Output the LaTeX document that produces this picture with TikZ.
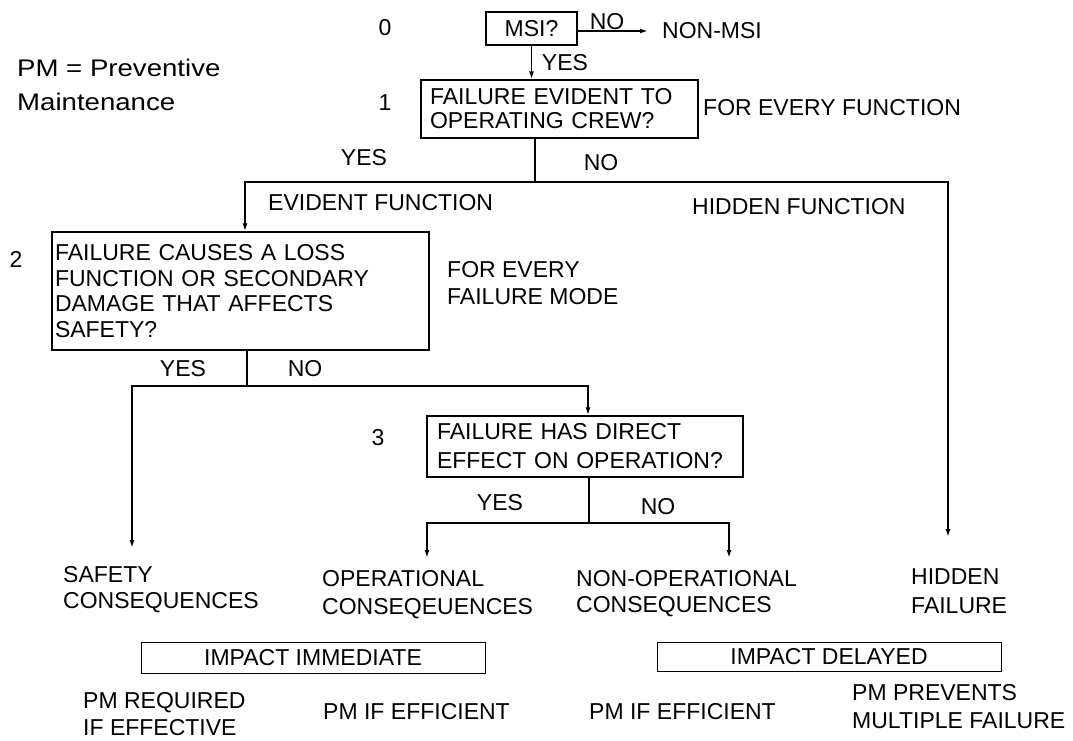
\documentclass[tikz,border=0pt]{standalone}
\usepackage{fontspec}
\setmainfont{Liberation Sans}
\usetikzlibrary{arrows.meta,calc}
\begin{document}
\begin{tikzpicture}[x=1pt,y=-1pt,
  txt/.style={inner sep=0pt, font=\fontsize{23}{26}\selectfont, align=left, anchor=west},
  lbl/.style={txt, anchor=center},
  qbox/.style={draw, line width=1.1pt, font=\fontsize{23}{26}\selectfont, align=left, inner ysep=0pt},
  ibox/.style={draw, line width=1pt, font=\fontsize{23}{26}\selectfont, align=center, inner sep=0pt, minimum width=344pt},
  conn/.style={line width=1.6pt},
  arr/.style={conn, -{Latex[length=8pt,width=5pt]}},
]
\useasboundingbox (0,0) rectangle (1073,740);

% legend
\node[txt, font=\fontsize{24}{34}\selectfont] (pm) at (17,85) {\scalebox{1.15}[1]{PM = Preventive}\\\scalebox{1.15}[1]{Maintenance}};

% level numbers
\node[lbl] (l0) at (385,28) {0};
\node[lbl] (l1) at (385,103) {1};
\node[lbl] (l2) at (16,259) {2};
\node[lbl] (l3) at (378,438) {3};

% boxes
\node[qbox, align=center, minimum width=91pt, minimum height=33pt] (msi) at (531.5,28.5) {MSI?};
\node[qbox, minimum width=277pt, minimum height=58pt, text width=259pt, inner xsep=9pt, font=\fontsize{23}{24}\selectfont] (b1) at (559.5,109) {FAILURE EVIDENT TO\\OPERATING CREW?};
\node[qbox, minimum width=377pt, minimum height=118pt, text width=371pt, inner xsep=3pt, font=\fontsize{23}{25.5}\selectfont] (b2) at (240.5,291) {FAILURE CAUSES A LOSS\\FUNCTION OR SECONDARY\\DAMAGE THAT AFFECTS\\SAFETY?};
\node[qbox, minimum width=316pt, minimum height=61pt, text width=296pt, inner xsep=10pt, font=\fontsize{23}{29}\selectfont] (b3) at (585,446.5) {FAILURE HAS DIRECT\\EFFECT ON OPERATION?};
\node[ibox, minimum height=31pt] (imm) at (313,657.5) {IMPACT IMMEDIATE};
\node[ibox, minimum height=29pt] (del) at (829,656.5) {IMPACT DELAYED};

% labels
\node[txt] (nonmsi) at (662,31) {NON-MSI};
\node[lbl] (msino) at (607,22) {NO};
\node[lbl] (msiyes) at (565,63) {YES};
\node[txt] (fef) at (703,108) {FOR EVERY FUNCTION};
\node[lbl] (y1) at (364,158) {YES};
\node[lbl] (n1) at (601,163) {NO};
\node[txt] (evf) at (268,203) {EVIDENT FUNCTION};
\node[txt] (hidf) at (692,207) {HIDDEN FUNCTION};
\node[txt, font=\fontsize{23}{27}\selectfont] (fefm) at (447,283.5) {FOR EVERY\\FAILURE MODE};
\node[lbl] (y2) at (183,369) {YES};
\node[lbl] (n2) at (305,369) {NO};
\node[lbl] (y3) at (500,503) {YES};
\node[lbl] (n3) at (658,507) {NO};

% outcomes
\node[txt, font=\fontsize{23}{26}\selectfont] (safe) at (63,590) {SAFETY\\CONSEQUENCES};
\node[txt, font=\fontsize{23}{28}\selectfont] (oper) at (322,595) {OPERATIONAL\\CONSEQEUENCES};
\node[txt, font=\fontsize{23}{26}\selectfont] (nonop) at (576,594) {NON-OPERATIONAL\\CONSEQUENCES};
\node[txt, font=\fontsize{23}{29}\selectfont] (hidden) at (911,591.5) {HIDDEN\\FAILURE};
\node[txt, font=\fontsize{23}{27}\selectfont] (pmreq) at (83,714.5) {PM REQUIRED\\IF EFFECTIVE};
\node[txt] (pmeff1) at (323,712) {PM IF EFFICIENT};
\node[txt] (pmeff2) at (589,712) {PM IF EFFICIENT};
\node[txt, font=\fontsize{23}{28}\selectfont] (pmprev) at (852,707) {PM PREVENTS\\MULTIPLE FAILURE};

% connectors
\coordinate (msitip) at (648,31);
\draw[arr] (msi.east |- msitip) -- (msitip);
\draw[arr] (msi.south) -- (b1.north -| msi.south);

\coordinate (j1) at (535,182);
\coordinate (hl) at (245,182);
\coordinate (hr) at (948,182);
\coordinate (hidtip) at (948,537);
\draw[conn] (b1.south -| j1) -- (j1);
\draw[arr] (j1) -- (hl) -- (hl |- b2.north);
\draw[arr] (j1) -- (hr) -- (hidtip);

\coordinate (j2) at (247,386);
\coordinate (sl) at (132,386);
\coordinate (sr) at (588,386);
\coordinate (saftip) at (132,548);
\draw[conn] (b2.south -| j2) -- (j2);
\draw[arr] (j2) -- (sl) -- (saftip);
\draw[arr] (j2) -- (sr) -- (sr |- b3.north);

\coordinate (j3) at (589,523);
\coordinate (ol) at (427,523);
\coordinate (or) at (729,523);
\coordinate (optip) at (427,558);
\coordinate (noptip) at (729,558);
\draw[conn] (b3.south -| j3) -- (j3);
\draw[arr] (j3) -- (ol) -- (optip);
\draw[arr] (j3) -- (or) -- (noptip);
\end{tikzpicture}
\end{document}
